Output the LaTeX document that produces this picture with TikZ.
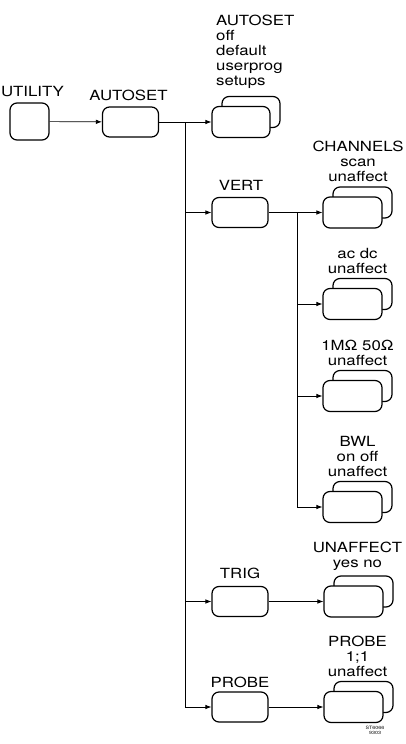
\documentclass[tikz,border=0pt]{standalone}
\usepackage{fontspec}
\setmainfont{TeX Gyre Heros}[FakeStretch=1.2]
\usetikzlibrary{arrows.meta,positioning,shadows}

\begin{document}
\begin{tikzpicture}[x=1pt, y=-1pt, >={Latex[length=6pt,width=4.5pt]},
		font=\fontsize{14}{15}\selectfont,
		menu/.style={draw, line width=1.2pt, rounded corners=7pt, fill=white,
			minimum width=56pt, minimum height=30pt, inner sep=0pt},
		setting/.style={menu, minimum width=59pt, minimum height=31pt,
			copy shadow={shadow xshift=10pt, shadow yshift=10pt, draw=black, fill=white, line width=1.2pt}},
		title/.style={inner sep=0pt, text depth=0pt},
		choices/.style={title, align=center},
		link/.style={->, line width=0.7pt}]
		\useasboundingbox (0,0) rectangle (405,744);
		% menu keys
		\node[menu, minimum width=39pt, minimum height=37pt] (utility) at (29.5,121.5) {};
		\node[menu] (autoset) at (130.5,122) {};
		\node[menu] (vert) at (240,212.5) {};
		\node[menu] (trig) at (240,601.5) {};
		\node[menu] (probe) at (240,707) {};
		% key titles
		\node[title, above=6pt of utility, xshift=3pt] (utilitytxt) {UTILITY};
		\node[title, above=6pt of autoset, xshift=-2pt] (autosettxt) {AUTOSET};
		\node[title, above=6pt of vert, xshift=1pt] (verttxt) {VERT};
		\node[title, above=7pt of trig] (trigtxt) {TRIG};
		\node[title, above=4pt of probe] (probetxt) {PROBE};
		% settings (stacked)
		\node[setting, minimum width=58pt] (setups) at (241,122) {};
		\node[setting] (chan) at (352.5,212.5) {};
		\node[setting] (acdc) at (352.5,304) {};
		\node[setting] (ohm) at (352.5,396) {};
		\node[setting] (bwl) at (352.5,507) {};
		\node[setting] (unaff) at (353.5,601.5) {};
		\node[setting] (probeset) at (353.5,707) {};
		% setting choices
		\node[choices, align=left, anchor=south west] (setupstxt) at (216,85.5) {AUTOSET\\off\\default\\userprog\\setups};
		\node[choices, above=15pt of chan, xshift=5.5pt] (chantxt) {CHANNELS\\scan\\unaffect};
		\node[choices, above=14pt of acdc, xshift=5pt] (acdctxt) {ac dc\\unaffect};
		\node[choices, above=14pt of ohm, xshift=5pt] (ohmtxt) {1MΩ 50Ω\\unaffect};
		\node[choices, above=14.5pt of bwl, xshift=5pt] (bwltxt) {BWL\\on off\\unaffect};
		\node[choices, above=18pt of unaff, xshift=4pt] (unafftxt) {UNAFFECT\\yes no};
		\node[choices, above=14.5pt of probeset, xshift=4pt] (probesettxt) {PROBE\\1;1\\unaffect};
		% connectors
		\coordinate (trunk) at (185,122);
		\coordinate (vsplit) at (297,212.5);
		\draw[link] (utility) -- (autoset);
		\draw[link] (autoset) -- (setups);
		\draw[link] (trunk) |- (probe);
		\draw[link] (trunk |- vert) -- (vert);
		\draw[link] (trunk |- trig) -- (trig);
		\draw[link] (vert) -- (chan);
		\draw[link] (vsplit) |- (bwl);
		\draw[link] (vsplit |- acdc) -- (acdc);
		\draw[link] (vsplit |- ohm) -- (ohm);
		\draw[link] (trig) -- (unaff);
		\draw[link] (probe) -- (probeset);
		% drawing number
		\node[font=\fontsize{4.5}{5}\selectfont, align=center, inner sep=0pt] (stamp) at (375,730) {ST6066\\9303};
	\end{tikzpicture}
\end{document}
